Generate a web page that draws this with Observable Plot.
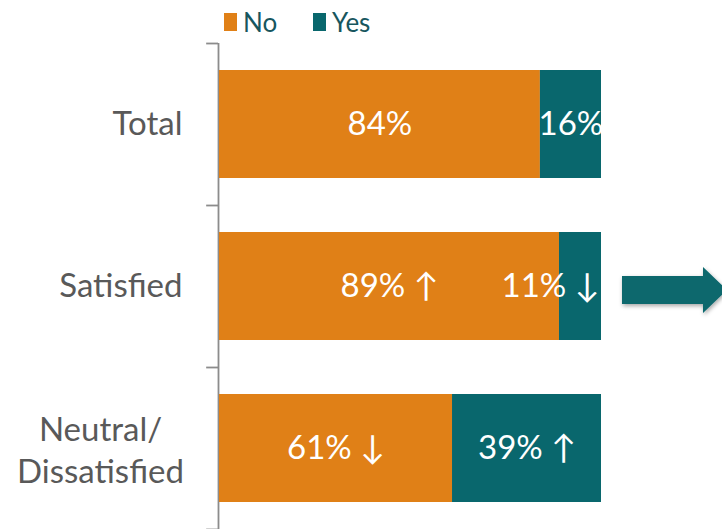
<!DOCTYPE html>
<html>
<head>
<meta charset="utf-8">
<script src="https://cdn.jsdelivr.net/npm/d3@7"></script>
<script src="https://cdn.jsdelivr.net/npm/@observablehq/plot@0.6"></script>
<style>
  html, body { margin: 0; padding: 0; background: #fff; }
  #wrap { position: relative; width: 722px; height: 529px; overflow: hidden; }
  #legend { position: absolute; top: 0; left: 0; width: 722px; height: 43px; }
  .item { position: absolute; top: 13px; height: 18px; display: flex; align-items: center; }
  .sw { width: 13px; height: 18px; display: inline-block; }
  .lab { margin-left: 6px; font-family: "Liberation Sans Narrow", Lato, sans-serif; font-size: 26px; color: #17565e; line-height: 18px; }
  #chart { position: absolute; top: 0; left: 0; }
</style>
</head>
<body>
<div id="wrap">
  <div id="chart"></div>
  <div id="legend"></div>
</div>
<script>
const categories = ["Total", "Satisfied", "Neutral/\nDissatisfied"];
const seriesNames = ["No", "Yes"];
const seriesColors = ["#E08017", "#09676D"];
const noValues = [84, 89, 61];
const yesValues = [16, 11, 39];
const noArrows = ["", "↑", "↓"];
const yesArrows = ["", "↓", "↑"];

const rows = [];
categories.forEach((c, i) => {
  rows.push({cat: c, series: "No", start: 0, end: noValues[i], value: noValues[i], arrow: noArrows[i]});
  rows.push({cat: c, series: "Yes", start: noValues[i], end: noValues[i] + yesValues[i], value: yesValues[i], arrow: yesArrows[i]});
});
const labelText = d => `${d.value}%` + (d.arrow ? " " + d.arrow : "");
const wide = rows.filter(d => d.value >= 15);
const narrow = rows.filter(d => d.value < 15);

const font = "Lato, 'Open Sans', sans-serif";

const plot = Plot.plot({
  width: 722,
  height: 529,
  marginTop: 43,
  marginBottom: 0,
  marginLeft: 219,
  marginRight: 121,
  style: {fontFamily: font, overflow: "visible"},
  x: {domain: [0, 100], axis: null},
  y: {domain: categories, axis: null, paddingInner: 1/3, paddingOuter: 1/6},
  color: {domain: seriesNames, range: seriesColors},
  marks: [
    Plot.ruleX([0], {stroke: "#8c8c8c", strokeWidth: 1.8, dx: -1}),
    Plot.ruleY(categories, {y: d => d, x1: -3.1, x2: 0, dy: -81, dx: -1, stroke: "#8c8c8c", strokeWidth: 1.8}),
    Plot.ruleY(categories.slice(-1), {y: d => d, x1: -3.1, x2: 0, dy: 81, dx: -1, stroke: "#8c8c8c", strokeWidth: 1.8}),
    Plot.barX(rows, {y: "cat", x1: "start", x2: "end", fill: "series"}),
    Plot.text(wide, {y: "cat", x: d => (d.start + d.end) / 2, text: labelText, fill: "white", fontSize: 33}),
    Plot.text(narrow, {y: "cat", x: "end", text: labelText, fill: "white", fontSize: 33, textAnchor: "end", dx: -2}),
    Plot.text(categories.slice(0, 2), {y: d => d, text: d => d, frameAnchor: "left", dx: -37, textAnchor: "end", fill: "#595959", fontSize: 33}),
    Plot.text(categories.slice(2), {y: d => d, text: d => d, frameAnchor: "left", dx: -119, textAnchor: "middle", fill: "#595959", fontSize: 33, lineHeight: 1.27})
  ]
});
document.getElementById("chart").appendChild(plot);

// Block arrow annotation pointing right from the "Satisfied" row
const y = plot.scale("y");
const cy = y.apply("Satisfied") + y.bandwidth / 2 + 4;
const svg = d3.select(plot);
const defs = svg.append("defs");
const f = defs.append("filter").attr("id", "shadow").attr("x", "-20%").attr("y", "-40%").attr("width", "160%").attr("height", "200%");
f.append("feDropShadow").attr("dx", 1).attr("dy", 2).attr("stdDeviation", 2).attr("flood-color", "#000").attr("flood-opacity", 0.35);
const x0 = 622, xh = 703, xt = 727, sh = 14, hh = 23;
svg.append("path")
  .attr("d", `M${x0},${cy - sh} L${xh},${cy - sh} L${xh},${cy - hh} L${xt},${cy} L${xh},${cy + hh} L${xh},${cy + sh} L${x0},${cy + sh} Z`)
  .attr("fill", seriesColors[1])
  .attr("filter", "url(#shadow)");

// Legend
const legend = document.getElementById("legend");
const lefts = [224, 313];
seriesNames.forEach((s, i) => {
  const it = document.createElement("div");
  it.className = "item";
  it.style.left = lefts[i] + "px";
  it.innerHTML = `<span class="sw" style="background:${seriesColors[i]}"></span><span class="lab">${s}</span>`;
  legend.appendChild(it);
});
</script>
</body>
</html>
